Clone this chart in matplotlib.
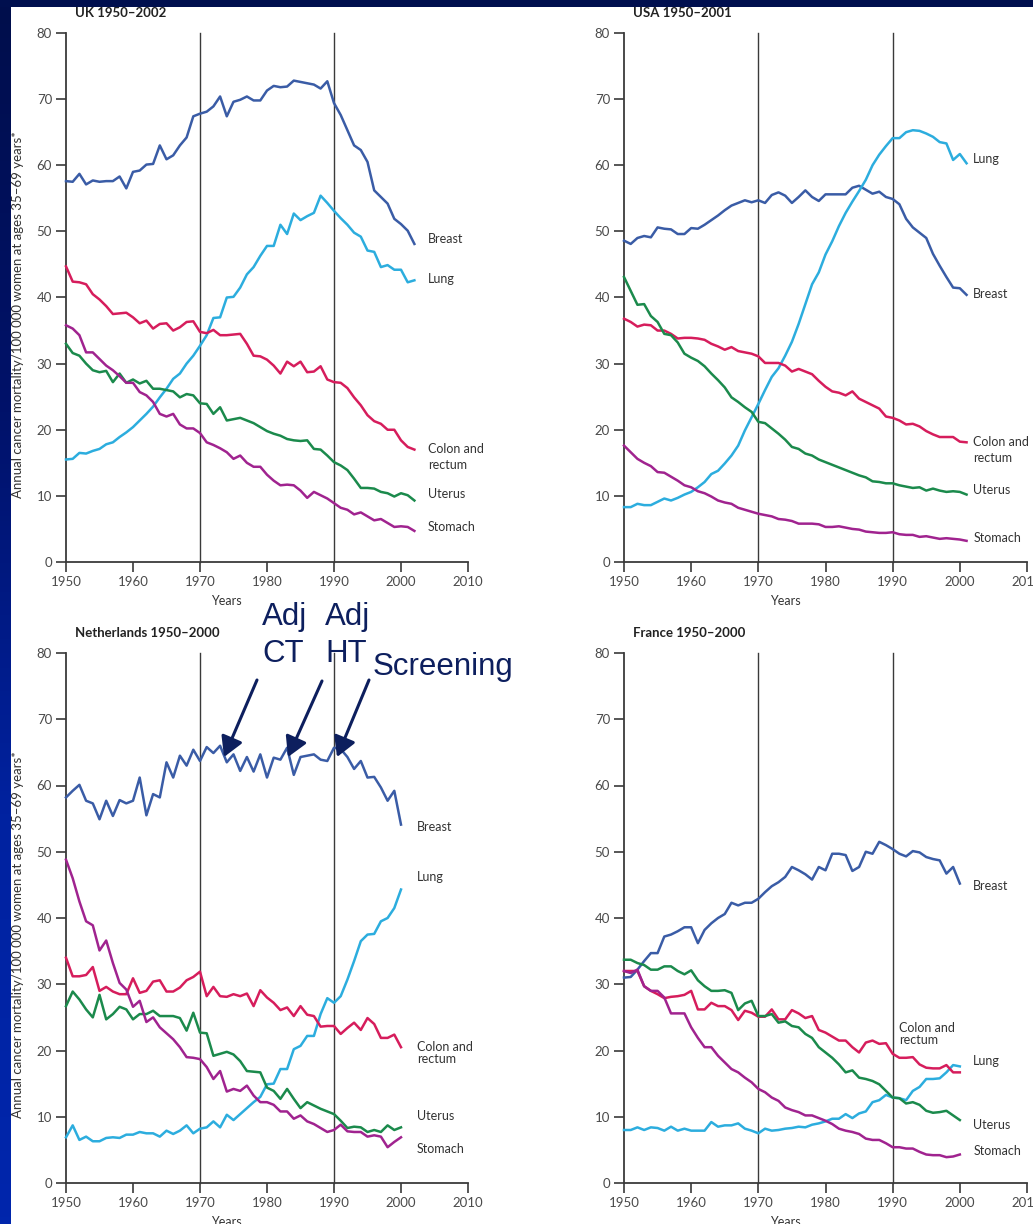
import numpy as np
import matplotlib
matplotlib.use("Agg")
import matplotlib.pyplot as plt
from matplotlib.patches import Rectangle, FancyArrowPatch
from matplotlib.colors import LinearSegmentedColormap

plt.rcParams['font.family'] = ['Lato', 'DejaVu Sans']

W, H = 1033, 1224

# ---------------- data: annual mortality per 100 000 women aged 35-69 ----------------
uk_years = list(range(1950, 2003))
uk_breast = [57.6, 57.5, 58.7, 57.1, 57.7, 57.5, 57.6, 57.6, 58.3, 56.5,
             59.0, 59.2, 60.1, 60.2, 63.0, 60.9, 61.5, 63.0, 64.2, 67.4,
             67.8, 68.1, 68.9, 70.4, 67.4, 69.6, 69.9, 70.4, 69.8, 69.8,
             71.3, 72.0, 71.8, 71.9, 72.8, 72.6, 72.4, 72.2, 71.6, 72.7,
             69.4, 67.6, 65.3, 63.0, 62.3, 60.5, 56.2, 55.2, 54.2, 51.9,
             51.1, 50.1, 48.1]
uk_lung = [15.5, 15.6, 16.5, 16.4, 16.8, 17.1, 17.8, 18.1, 18.9, 19.6,
           20.4, 21.4, 22.4, 23.5, 24.9, 26.2, 27.7, 28.5, 30.0, 31.2,
           32.7, 34.3, 36.9, 37.0, 40.0, 40.1, 41.5, 43.5, 44.6, 46.3,
           47.8, 47.8, 51.0, 49.6, 52.7, 51.7, 52.3, 52.8, 55.4, 54.3,
           53.1, 52.0, 51.0, 49.8, 49.2, 47.1, 46.9, 44.6, 44.9, 44.2,
           44.2, 42.3, 42.6]
uk_colon = [44.7, 42.4, 42.3, 42.0, 40.5, 39.7, 38.7, 37.5, 37.6, 37.7,
            37.0, 36.1, 36.5, 35.3, 36.0, 36.1, 35.0, 35.5, 36.3, 36.4,
            34.8, 34.6, 35.1, 34.3, 34.3, 34.4, 34.5, 33.0, 31.2, 31.1,
            30.6, 29.7, 28.5, 30.3, 29.6, 30.3, 28.7, 28.8, 29.6, 27.6,
            27.2, 27.1, 26.3, 24.9, 23.7, 22.2, 21.3, 20.9, 20.0, 20.0,
            18.4, 17.4, 17.0]
uk_uterus = [33.0, 31.6, 31.2, 30.0, 29.0, 28.7, 28.9, 27.2, 28.5, 27.1,
             27.6, 27.0, 27.4, 26.2, 26.2, 26.0, 25.8, 24.9, 25.4, 25.2,
             24.0, 23.9, 22.4, 23.4, 21.4, 21.6, 21.8, 21.4, 21.0, 20.4,
             19.8, 19.4, 19.1, 18.6, 18.4, 18.3, 18.4, 17.1, 17.0, 16.1,
             15.1, 14.6, 13.9, 12.6, 11.2, 11.2, 11.1, 10.6, 10.4, 9.9,
             10.4, 10.1, 9.3]
uk_stomach = [35.8, 35.3, 34.3, 31.7, 31.7, 30.7, 29.7, 29.0, 28.1, 27.1,
              27.1, 25.7, 25.2, 24.2, 22.4, 22.0, 22.4, 20.8, 20.2, 20.2,
              19.5, 18.1, 17.7, 17.2, 16.6, 15.6, 16.1, 15.0, 14.4, 14.4,
              13.2, 12.3, 11.6, 11.7, 11.6, 10.8, 9.7, 10.6, 10.1, 9.6,
              8.9, 8.2, 7.9, 7.2, 7.5, 6.9, 6.3, 6.5, 5.9, 5.3,
              5.4, 5.3, 4.7]

usa_years = list(range(1950, 2002))
usa_breast = [48.6, 48.1, 49.0, 49.3, 49.1, 50.6, 50.4, 50.3, 49.6, 49.6,
              50.5, 50.4, 51.0, 51.7, 52.4, 53.2, 53.9, 54.3, 54.7, 54.4,
              54.7, 54.3, 55.5, 55.9, 55.4, 54.3, 55.2, 56.2, 55.2, 54.6,
              55.6, 55.6, 55.6, 55.6, 56.6, 56.9, 56.3, 55.7, 56.0, 55.2,
              54.9, 54.1, 51.9, 50.6, 49.8, 49.0, 46.6, 44.8, 43.1, 41.5,
              41.4, 40.4]
usa_lung = [8.3, 8.3, 8.8, 8.6, 8.6, 9.1, 9.6, 9.3, 9.7, 10.2,
            10.6, 11.3, 12.1, 13.3, 13.8, 14.9, 16.1, 17.6, 19.9, 21.9,
            23.9, 26.0, 28.0, 29.3, 31.2, 33.3, 36.0, 39.0, 42.0, 43.8,
            46.5, 48.5, 50.8, 52.8, 54.5, 56.1, 57.8, 60.0, 61.6, 62.9,
            64.1, 64.1, 65.0, 65.3, 65.2, 64.8, 64.3, 63.5, 63.3, 60.8,
            61.7, 60.3]
usa_colon = [36.8, 36.3, 35.6, 35.9, 35.8, 35.0, 35.0, 34.5, 33.8, 33.9,
             33.9, 33.8, 33.6, 33.0, 32.6, 32.1, 32.5, 31.9, 31.7, 31.5,
             31.1, 30.1, 30.1, 30.1, 29.7, 28.8, 29.2, 28.8, 28.4, 27.4,
             26.5, 25.8, 25.6, 25.2, 25.8, 24.7, 24.2, 23.7, 23.2, 22.0,
             21.8, 21.4, 20.8, 20.9, 20.5, 19.8, 19.3, 18.9, 18.9, 18.9,
             18.2, 18.1]
usa_uterus = [43.1, 41.0, 38.9, 39.0, 37.2, 36.3, 34.5, 34.3, 33.2, 31.5,
              30.9, 30.4, 29.6, 28.5, 27.5, 26.4, 24.9, 24.2, 23.4, 22.7,
              21.2, 21.0, 20.2, 19.4, 18.5, 17.4, 17.1, 16.4, 16.1, 15.5,
              15.1, 14.7, 14.3, 13.9, 13.5, 13.1, 12.8, 12.2, 12.1, 11.9,
              11.9, 11.6, 11.4, 11.2, 11.3, 10.8, 11.1, 10.8, 10.6, 10.7,
              10.6, 10.2]
usa_stomach = [17.6, 16.6, 15.6, 15.0, 14.5, 13.6, 13.5, 12.9, 12.3, 11.6,
               11.3, 10.7, 10.4, 9.9, 9.3, 9.0, 8.8, 8.2, 7.9, 7.6,
               7.3, 7.1, 6.9, 6.5, 6.4, 6.2, 5.8, 5.8, 5.8, 5.7,
               5.3, 5.3, 5.4, 5.2, 5.0, 4.9, 4.6, 4.5, 4.4, 4.4,
               4.5, 4.2, 4.1, 4.1, 3.8, 3.9, 3.7, 3.5, 3.6, 3.5,
               3.4, 3.2]

nl_years = list(range(1950, 2001))
nl_breast = [58.2, 59.2, 60.1, 57.7, 57.3, 54.9, 57.7, 55.4, 57.8, 57.3,
             57.7, 61.2, 55.5, 58.7, 58.2, 63.5, 61.2, 64.5, 63.0, 65.4,
             63.7, 65.8, 64.9, 66.0, 63.5, 64.7, 62.2, 64.3, 62.1, 64.7,
             61.2, 64.2, 63.9, 65.7, 61.6, 64.3, 64.5, 64.7, 63.9, 63.7,
             65.7, 65.5, 64.3, 62.5, 63.7, 61.2, 61.3, 59.7, 57.7, 59.2,
             54.1]
nl_lung = [6.9, 8.7, 6.5, 7.0, 6.3, 6.3, 6.8, 6.9, 6.8, 7.3,
           7.3, 7.7, 7.5, 7.5, 7.0, 7.9, 7.4, 7.9, 8.7, 7.5,
           8.2, 8.4, 9.3, 8.4, 10.3, 9.5, 10.4, 11.3, 12.2, 13.0,
           14.9, 15.0, 17.2, 17.2, 20.2, 20.7, 22.2, 22.2, 25.5, 27.9,
           27.2, 28.2, 30.7, 33.5, 36.5, 37.5, 37.6, 39.5, 40.0, 41.5,
           44.3]
nl_colon = [34.0, 31.2, 31.2, 31.4, 32.6, 29.0, 29.6, 28.9, 28.5, 28.5,
            30.9, 28.7, 29.0, 30.4, 30.6, 28.9, 28.9, 29.5, 30.6, 31.1,
            31.9, 28.2, 29.6, 28.2, 28.1, 28.5, 28.2, 28.6, 26.7, 29.1,
            28.0, 27.2, 26.1, 26.5, 25.2, 26.7, 25.4, 25.2, 23.6, 23.7,
            23.7, 22.5, 23.4, 24.2, 23.1, 24.9, 24.0, 21.9, 21.9, 22.4,
            20.5]
nl_uterus = [26.7, 28.9, 27.7, 26.2, 25.0, 28.4, 24.7, 25.5, 26.6, 26.2,
             24.7, 25.5, 25.5, 26.0, 25.2, 25.2, 25.2, 24.9, 23.0, 25.7,
             22.7, 22.6, 19.2, 19.5, 19.8, 19.4, 18.4, 16.9, 16.8, 16.7,
             14.4, 13.9, 12.7, 14.2, 12.7, 11.3, 12.2, 11.7, 11.2, 10.8,
             10.4, 9.4, 8.3, 8.5, 8.4, 7.7, 8.0, 7.7, 8.7, 8.0,
             8.4]
nl_stomach = [48.8, 46.0, 42.5, 39.5, 38.9, 35.1, 36.6, 33.2, 30.2, 29.2,
              26.6, 27.5, 24.3, 25.0, 23.5, 22.6, 21.7, 20.5, 19.0, 18.9,
              18.7, 17.5, 15.7, 16.9, 13.8, 14.2, 13.9, 14.7, 13.2, 12.2,
              12.2, 11.8, 10.8, 10.8, 9.7, 10.2, 9.3, 8.9, 8.3, 7.7,
              8.0, 8.8, 7.8, 7.7, 7.7, 7.0, 7.2, 7.0, 5.4, 6.2,
              6.9]

fr_years = list(range(1950, 2001))
fr_breast = [31.0, 31.1, 32.2, 33.5, 34.7, 34.7, 37.2, 37.5, 38.0, 38.6,
             38.6, 36.2, 38.2, 39.2, 40.0, 40.6, 42.3, 41.9, 42.3, 42.3,
             42.9, 43.9, 44.8, 45.4, 46.2, 47.7, 47.2, 46.6, 45.8, 47.7,
             47.2, 49.7, 49.7, 49.5, 47.1, 47.7, 50.0, 49.7, 51.5, 51.0,
             50.4, 49.7, 49.3, 50.1, 49.9, 49.2, 48.9, 48.7, 46.7, 47.7,
             45.2]
fr_lung = [8.0, 8.0, 8.4, 8.0, 8.4, 8.3, 7.9, 8.5, 7.9, 8.2,
           7.9, 7.9, 7.9, 9.2, 8.5, 8.7, 8.7, 9.0, 8.2, 7.9,
           7.5, 8.2, 7.9, 8.0, 8.2, 8.3, 8.5, 8.4, 8.8, 9.0,
           9.3, 9.7, 9.7, 10.4, 9.8, 10.5, 10.8, 12.2, 12.5, 13.3,
           12.9, 12.8, 12.5, 13.9, 14.5, 15.7, 15.7, 15.8, 16.7, 17.8,
           17.6]
fr_colon = [32.0, 32.0, 32.0, 29.7, 29.0, 28.5, 27.9, 28.1, 28.2, 28.4,
            29.0, 26.2, 26.2, 27.2, 26.7, 26.7, 26.1, 24.6, 26.0, 25.7,
            25.1, 25.1, 26.2, 24.7, 24.7, 26.1, 25.6, 24.9, 25.2, 23.1,
            22.7, 22.1, 21.5, 21.5, 20.5, 19.7, 21.2, 21.5, 21.0, 21.1,
            19.5, 18.9, 18.9, 19.0, 17.9, 17.4, 17.3, 17.3, 17.8, 16.7,
            16.7]
fr_uterus = [33.7, 33.7, 33.2, 32.9, 32.2, 32.2, 32.7, 32.7, 32.0, 31.5,
             32.1, 30.6, 29.7, 29.0, 29.0, 29.1, 28.7, 26.1, 27.1, 27.5,
             25.2, 25.2, 25.5, 24.2, 24.4, 23.7, 23.5, 22.5, 21.9, 20.5,
             19.7, 18.9, 17.9, 16.7, 17.0, 15.9, 15.7, 15.4, 14.9, 13.9,
             12.9, 12.8, 12.0, 12.2, 11.8, 10.9, 10.6, 10.7, 10.9, 10.2,
             9.5]
fr_stomach = [32.0, 31.7, 32.2, 29.7, 29.0, 29.0, 28.0, 25.6, 25.6, 25.6,
              23.5, 21.9, 20.5, 20.5, 19.2, 18.2, 17.2, 16.7, 15.9, 15.2,
              14.2, 13.7, 12.9, 12.4, 11.4, 11.0, 10.7, 10.2, 10.2, 9.8,
              9.4, 8.9, 8.2, 7.9, 7.7, 7.4, 6.7, 6.5, 6.5, 6.0,
              5.4, 5.4, 5.2, 5.2, 4.7, 4.3, 4.2, 4.2, 3.9, 4.0,
              4.3]

sites = ["Breast", "Lung", "Colon and\nrectum", "Uterus", "Stomach"]
site_colors = ["#3a5ca6", "#2cadde", "#d61d5c", "#1b8a4c", "#a0238f"]
x_ticks = [1950, 1960, 1970, 1980, 1990, 2000, 2010]
y_ticks = [0, 10, 20, 30, 40, 50, 60, 70, 80]
marker_years = [1970, 1990]
y_label = "Annual cancer mortality/100 000 women at ages 35\u201369 years*"

# panel: title, years, series, label (x, y) per site, label line spacing,
# y-label centre (px) or None, axes box in pixels (left, top, right, bottom)
panels = [
    ("UK 1950\u20132002", uk_years,
     [uk_breast, uk_lung, uk_colon, uk_uterus, uk_stomach],
     [(2004, 48.9), (2004, 42.8), (2004, 15.9), (2004, 10.3), (2004, 5.3)], 1.45, 315,
     (66, 33, 468, 562)),
    ("USA 1950\u20132001", usa_years,
     [usa_breast, usa_lung, usa_colon, usa_uterus, usa_stomach],
     [(2002, 40.5), (2002, 61.0), (2002, 16.9), (2002, 10.9), (2002, 3.6)], 1.45, None,
     (624, 33, 1027, 562)),
    ("Netherlands 1950\u20132000", nl_years,
     [nl_breast, nl_lung, nl_colon, nl_uterus, nl_stomach],
     [(2002.4, 53.7), (2002.4, 46.2), (2002.4, 19.6), (2002.4, 10.1), (2002.4, 5.1)], 1.0, 935,
     (66, 653, 468, 1183)),
    ("France 1950\u20132000", fr_years,
     [fr_breast, fr_lung, fr_colon, fr_uterus, fr_stomach],
     [(2002, 44.8), (2002, 18.4), (1990.9, 22.5), (2002, 8.8), (2002, 4.8)], 1.0, None,
     (624, 653, 1027, 1183)),
]

fig = plt.figure(figsize=(W / 100, H / 100), dpi=100, facecolor="white")

# slide frame: dark band across the top, blue gradient strip down the left
bg = fig.add_axes([0, 0, 1, 1], zorder=-10)
bg.set_xlim(0, W)
bg.set_ylim(H, 0)
bg.axis("off")
bg.add_patch(Rectangle((0, 0), W, 7, color="#000f4e", lw=0))
grad = LinearSegmentedColormap.from_list("band", ["#000e4c", "#00126a", "#0022a0", "#0026ac"])
bg.imshow(np.linspace(0, 1, 256).reshape(-1, 1), cmap=grad, aspect="auto",
          extent=(0, 11, H, 7), interpolation="bilinear")

text_col = "#333333"
tick_col = "#4a4a4a"

for title, years, series, label_pos, lsp, ylab_c, (x0, y0, x1, y1) in panels:
    ax = fig.add_axes([x0 / W, 1 - y1 / H, (x1 - x0) / W, (y1 - y0) / H])
    ax.set_xlim(1950, 2010)
    ax.set_ylim(0, 80)
    ax.patch.set_alpha(0)
    for side in ("top", "right"):
        ax.spines[side].set_visible(False)
    for side in ("left", "bottom"):
        ax.spines[side].set_color("#3a3a3a")
        ax.spines[side].set_linewidth(1.3)
    ax.set_xticks(x_ticks)
    ax.set_yticks(y_ticks)
    ax.tick_params(axis="both", direction="out", length=7, width=1.2, color="#3a3a3a",
                   labelsize=9.5, labelcolor=tick_col, pad=3)
    for yr in marker_years:
        ax.plot([yr, yr], [0, 80], color="#3a3a3a", lw=1.0, zorder=1, clip_on=False)

    for vals, col in zip(series, site_colors):
        ax.plot(years, vals, color=col, lw=1.8, solid_joinstyle="round", zorder=3, clip_on=False)

    for name, (lx, ly) in zip(sites, label_pos):
        ax.text(lx, ly, name, color=text_col, fontsize=9, ha="left", va="center",
                linespacing=lsp, clip_on=False)

    ax.text(1951.3, 83.0, title, fontsize=9.5, fontweight="bold", color="#222222",
            ha="left", va="center", clip_on=False)
    ax.text(1974, -0.074, "Years", transform=ax.get_xaxis_transform(), fontsize=9,
            color=text_col, ha="center", va="center", clip_on=False)
    if ylab_c is not None:
        fig.text(18 / W, 1 - ylab_c / H, y_label, rotation=90, fontsize=9.5,
                 color=text_col, ha="center", va="center")

# treatment and screening milestones on the Dutch breast cancer curve
note_col = "#0d1f5e"
note_font = dict(family=["Liberation Sans", "DejaVu Sans"], fontsize=22.5, color=note_col)
for txt, x, ybase in [("Adj", 262, 625), ("CT", 262, 662), ("Adj", 325, 625),
                      ("HT", 325, 662), ("Screening", 373, 675)]:
    fig.text(x / W, 1 - ybase / H, txt, ha="left", va="baseline", **note_font)

for (sx, sy), (ex, ey) in [((257, 680), (224, 757)), ((322, 681), (288, 757)),
                           ((369, 680), (337, 757))]:
    fig.add_artist(FancyArrowPatch(
        (sx / W, 1 - sy / H), (ex / W, 1 - ey / H), transform=fig.transFigure,
        arrowstyle="-|>,head_length=7,head_width=4", mutation_scale=1.7,
        color=note_col, lw=2.2, shrinkA=0, shrinkB=0))

fig.savefig("out.png", dpi=100, facecolor="white")
